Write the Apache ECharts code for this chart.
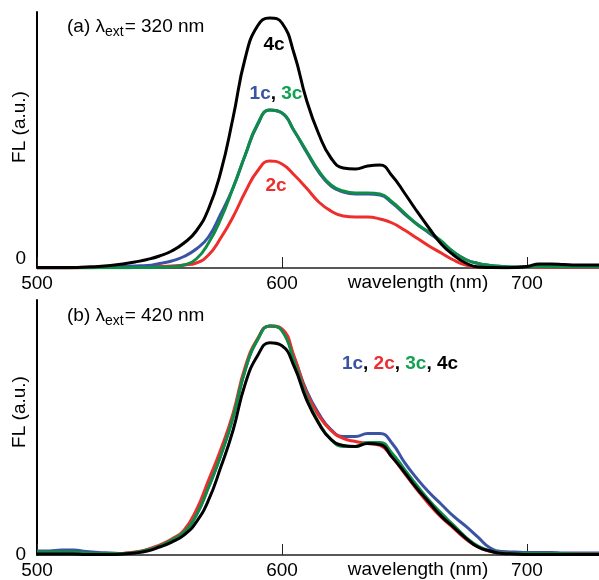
<!DOCTYPE html>
<html>
<head>
<meta charset="utf-8">
<script src="https://cdn.jsdelivr.net/npm/echarts@6/dist/echarts.min.js"></script>
<style>
  html, body { margin: 0; padding: 0; background: #fff; }
  #chart { width: 599px; height: 580px; }
</style>
</head>
<body>
<div id="chart"></div>
<script>
  // wavelength grid (nm)
  const wavelengths = [500, 505, 510, 515, 520, 525, 530, 535, 540, 545, 550, 555, 560, 565, 570, 575, 580, 585, 590, 595,
    600, 605, 610, 615, 620, 625, 630, 635, 640, 645, 650, 655, 660, 665, 670, 675, 680, 685, 690, 695,
    700, 705, 710, 715, 720, 725, 730]

  // (a) excitation 320 nm, FL in a.u.
  const a1c = [0.3, 0.3, 0.3, 0.4, 0.5, 0.7, 1, 1.5, 2, 2.5, 4.5, 7, 11.5, 19, 31, 54, 80, 113, 143, 158,
    155, 137, 116, 96, 82, 76, 74, 74, 73, 65, 54, 44, 35, 26, 16, 8.5, 4.5, 2.5, 1.5, 1,
    1, 1.5, 2, 2, 2, 2, 2]
  const a2c = [0, 0, 0, 0.1, 0.3, 0.4, 0.5, 0.7, 1, 1.2, 1.5, 2, 3, 5, 13, 30, 51, 76, 97, 107,
    104, 93, 80, 66, 57, 52, 51, 51, 49, 45, 38, 30, 22, 15, 8, 3, 1, 0.5, 0.5, 0.5,
    0.5, 0.7, 1, 1, 1, 1, 1]
  const a3c = [0.3, 0.3, 0.3, 0.3, 0.3, 0.3, 0.3, 0.3, 0.4, 0.5, 0.7, 1.2, 3, 9, 25, 49, 80, 113, 144, 158,
    155, 137, 117, 97, 83, 77, 75, 75, 74, 66, 55, 44, 36, 27, 16, 8.5, 4.5, 2.5, 1.5, 1,
    1, 1.5, 1.5, 1.5, 1.5, 1.5, 1.5]
  const a4c = [0.5, 0.5, 0.5, 0.5, 1, 1.5, 2.5, 4, 6, 8.5, 12, 17, 25, 37, 59, 96, 150, 210, 242, 250,
    245, 214, 168, 134, 110, 100, 99, 102, 103, 92, 75, 57, 40, 24, 13, 5, 1, 0.5, 0.3, 0.5,
    1.5, 4, 4, 3.5, 3, 3, 3]

  // (b) excitation 420 nm
  const b1c = [4, 4, 5, 5, 3.5, 2.5, 2, 1.5, 2.5, 5, 9, 15, 23, 40, 68, 100, 138, 186, 216, 230,
    226, 198, 165, 142, 126, 119, 119, 122, 122, 112, 93, 77, 63, 51, 39, 29, 18, 7, 3.5, 3,
    2.5, 2.5, 2.5, 2, 2, 2, 2]
  const b2c = [2, 2, 2, 2, 1.5, 1, 1, 1.5, 3, 5.5, 10, 16, 25, 45, 75, 106, 142, 189, 217, 230,
    227, 199, 163, 140, 125, 117, 114, 112, 110, 98, 82, 66, 51, 38, 27, 16, 8, 3.5, 2, 1.5,
    1.5, 1.5, 1, 1, 1, 1, 1]
  const b3c = [3, 3, 3, 3, 2, 1.5, 1.5, 1.5, 2.5, 5, 9, 15, 23, 40, 68, 100, 138, 186, 216, 230,
    225, 194, 159, 133, 116, 109, 109, 113, 113, 102, 86, 70, 55, 42, 30, 18, 9, 4, 2, 1.5,
    1.5, 1.5, 1.5, 1.5, 1, 1, 1]
  const b4c = [1, 1, 1, 1, 0.5, 0.5, 0.5, 1, 2, 4, 8, 13, 20, 33, 55, 88, 125, 172, 200, 213,
    210, 189, 156, 132, 116, 110, 109, 112, 111, 98, 83, 67, 53, 39, 28, 17, 8, 4, 1.5, 1,
    0.5, 0.5, 0.5, 0.5, 0.5, 0.5, 0.5]

  const xTicks = [500, 600, 700]

  const BLUE = '#3a53a4'
  const RED = '#ee2d2d'
  const GREEN = '#0f8c48'
  const GREEN_TXT = '#12a152'
  const FONT = '"Liberation Sans", Arial, sans-serif'

  const zip = ys => wavelengths.map((x, i) => [x, ys[i]])

  function xAxisFor (gridIndex) {
    return {
      type: 'value',
      gridIndex: gridIndex,
      min: 500,
      max: 729.4,
      interval: 100,
      axisLine: { show: true, onZero: false, lineStyle: { color: '#222', width: 1.5 } },
      axisTick: { show: true, inside: true, length: 11, lineStyle: { color: '#222', width: 1 } },
      splitLine: { show: false },
      axisLabel: {
        color: '#000',
        fontSize: 19,
        fontFamily: FONT,
        margin: 6,
        showMaxLabel: false,
        formatter: v => (xTicks.indexOf(v) >= 0 ? String(v) : '')
      }
    }
  }

  function yAxisFor (gridIndex, vAlign) {
    return {
      type: 'value',
      gridIndex: gridIndex,
      min: 0,
      max: 256,
      interval: 256,
      axisLine: { show: true, lineStyle: { color: '#000', width: 2 } },
      axisTick: { show: false },
      splitLine: { show: false },
      axisLabel: {
        color: '#000',
        fontSize: 19,
        fontFamily: FONT,
        margin: 11,
        verticalAlign: vAlign,
        formatter: v => (v === 0 ? '0' : '')
      }
    }
  }

  function line (name, data, color, xi) {
    return {
      name: name,
      type: 'line',
      xAxisIndex: xi,
      yAxisIndex: xi,
      data: zip(data),
      smooth: 0.5,
      showSymbol: false,
      silent: true,
      lineStyle: { color: color, width: 3 }
    }
  }

  function label (text, x, y, color) {
    return {
      type: 'text',
      x: x,
      y: y,
      style: { text: text, fill: color, font: 'bold 19px ' + FONT, textAlign: 'center', textVerticalAlign: 'middle' }
    }
  }

  const titleRich = {
    a: { fontSize: 19, fontWeight: 'normal', fontFamily: FONT, color: '#000' },
    s: { fontSize: 14, fontWeight: 'normal', fontFamily: FONT, color: '#000', padding: [10, 1, 0, 0] }
  }

  const chart = echarts.init(document.getElementById('chart'), null, { renderer: 'canvas' })
  chart.setOption({
    backgroundColor: '#fff',
    animation: false,
    title: [
      { text: '{a|(a) λ}{s|ext}{a|= 320 nm}', left: 62, top: 10, textStyle: { fontWeight: 'normal', rich: titleRich } },
      { text: '{a|(b) λ}{s|ext}{a|= 420 nm}', left: 62, top: 299, textStyle: { fontWeight: 'normal', rich: titleRich } }
    ],
    grid: [
      { left: 37, right: 0, top: 12, height: 256 },
      { left: 37, right: 0, top: 300, height: 256 }
    ],
    xAxis: [xAxisFor(0), xAxisFor(1)],
    yAxis: [yAxisFor(0, 'bottom'), yAxisFor(1, 'middle')],
    series: [
      line('2c', a2c, RED, 0),
      line('1c', a1c, BLUE, 0),
      line('3c', a3c, GREEN, 0),
      line('4c', a4c, '#000', 0),
      line('1c', b1c, BLUE, 1),
      line('2c', b2c, RED, 1),
      line('3c', b3c, GREEN, 1),
      line('4c', b4c, '#000', 1)
    ],
    graphic: [
      {
        type: 'text', x: 20, y: 127, rotation: Math.PI / 2,
        style: { text: 'FL (a.u.)', fill: '#000', font: '19px ' + FONT, textAlign: 'center', textVerticalAlign: 'middle' }
      },
      {
        type: 'text', x: 20, y: 412, rotation: Math.PI / 2,
        style: { text: 'FL (a.u.)', fill: '#000', font: '19px ' + FONT, textAlign: 'center', textVerticalAlign: 'middle' }
      },
      {
        type: 'text', x: 418, y: 283,
        style: { text: 'wavelength (nm)', fill: '#000', font: '19px ' + FONT, textAlign: 'center', textVerticalAlign: 'middle' }
      },
      {
        type: 'text', x: 418, y: 570,
        style: { text: 'wavelength (nm)', fill: '#000', font: '19px ' + FONT, textAlign: 'center', textVerticalAlign: 'middle' }
      },
      label('4c', 274, 45, '#000'),
      {
        type: 'text', x: 276, y: 94,
        style: {
          text: '{b|1c}{k|, }{g|3c}',
          font: 'bold 19px ' + FONT,
          textAlign: 'center',
          textVerticalAlign: 'middle',
          rich: {
            b: { fill: BLUE, font: 'bold 19px ' + FONT },
            k: { fill: '#000', font: 'bold 19px ' + FONT },
            g: { fill: GREEN_TXT, font: 'bold 19px ' + FONT }
          }
        }
      },
      label('2c', 276, 186, RED),
      {
        type: 'text', x: 400, y: 364,
        style: {
          text: '{b|1c}{k|, }{r|2c}{k|, }{g|3c}{k|, }{d|4c}',
          font: 'bold 19px ' + FONT,
          textAlign: 'center',
          textVerticalAlign: 'middle',
          rich: {
            b: { fill: BLUE, font: 'bold 19px ' + FONT },
            r: { fill: RED, font: 'bold 19px ' + FONT },
            g: { fill: GREEN_TXT, font: 'bold 19px ' + FONT },
            d: { fill: '#000', font: 'bold 19px ' + FONT },
            k: { fill: '#000', font: 'bold 19px ' + FONT }
          }
        }
      }
    ]
  })
  window.addEventListener('resize', () => {
    setTimeout(function () {
      chart.resize()
    }, 100)
  })
</script>
</body>
</html>
